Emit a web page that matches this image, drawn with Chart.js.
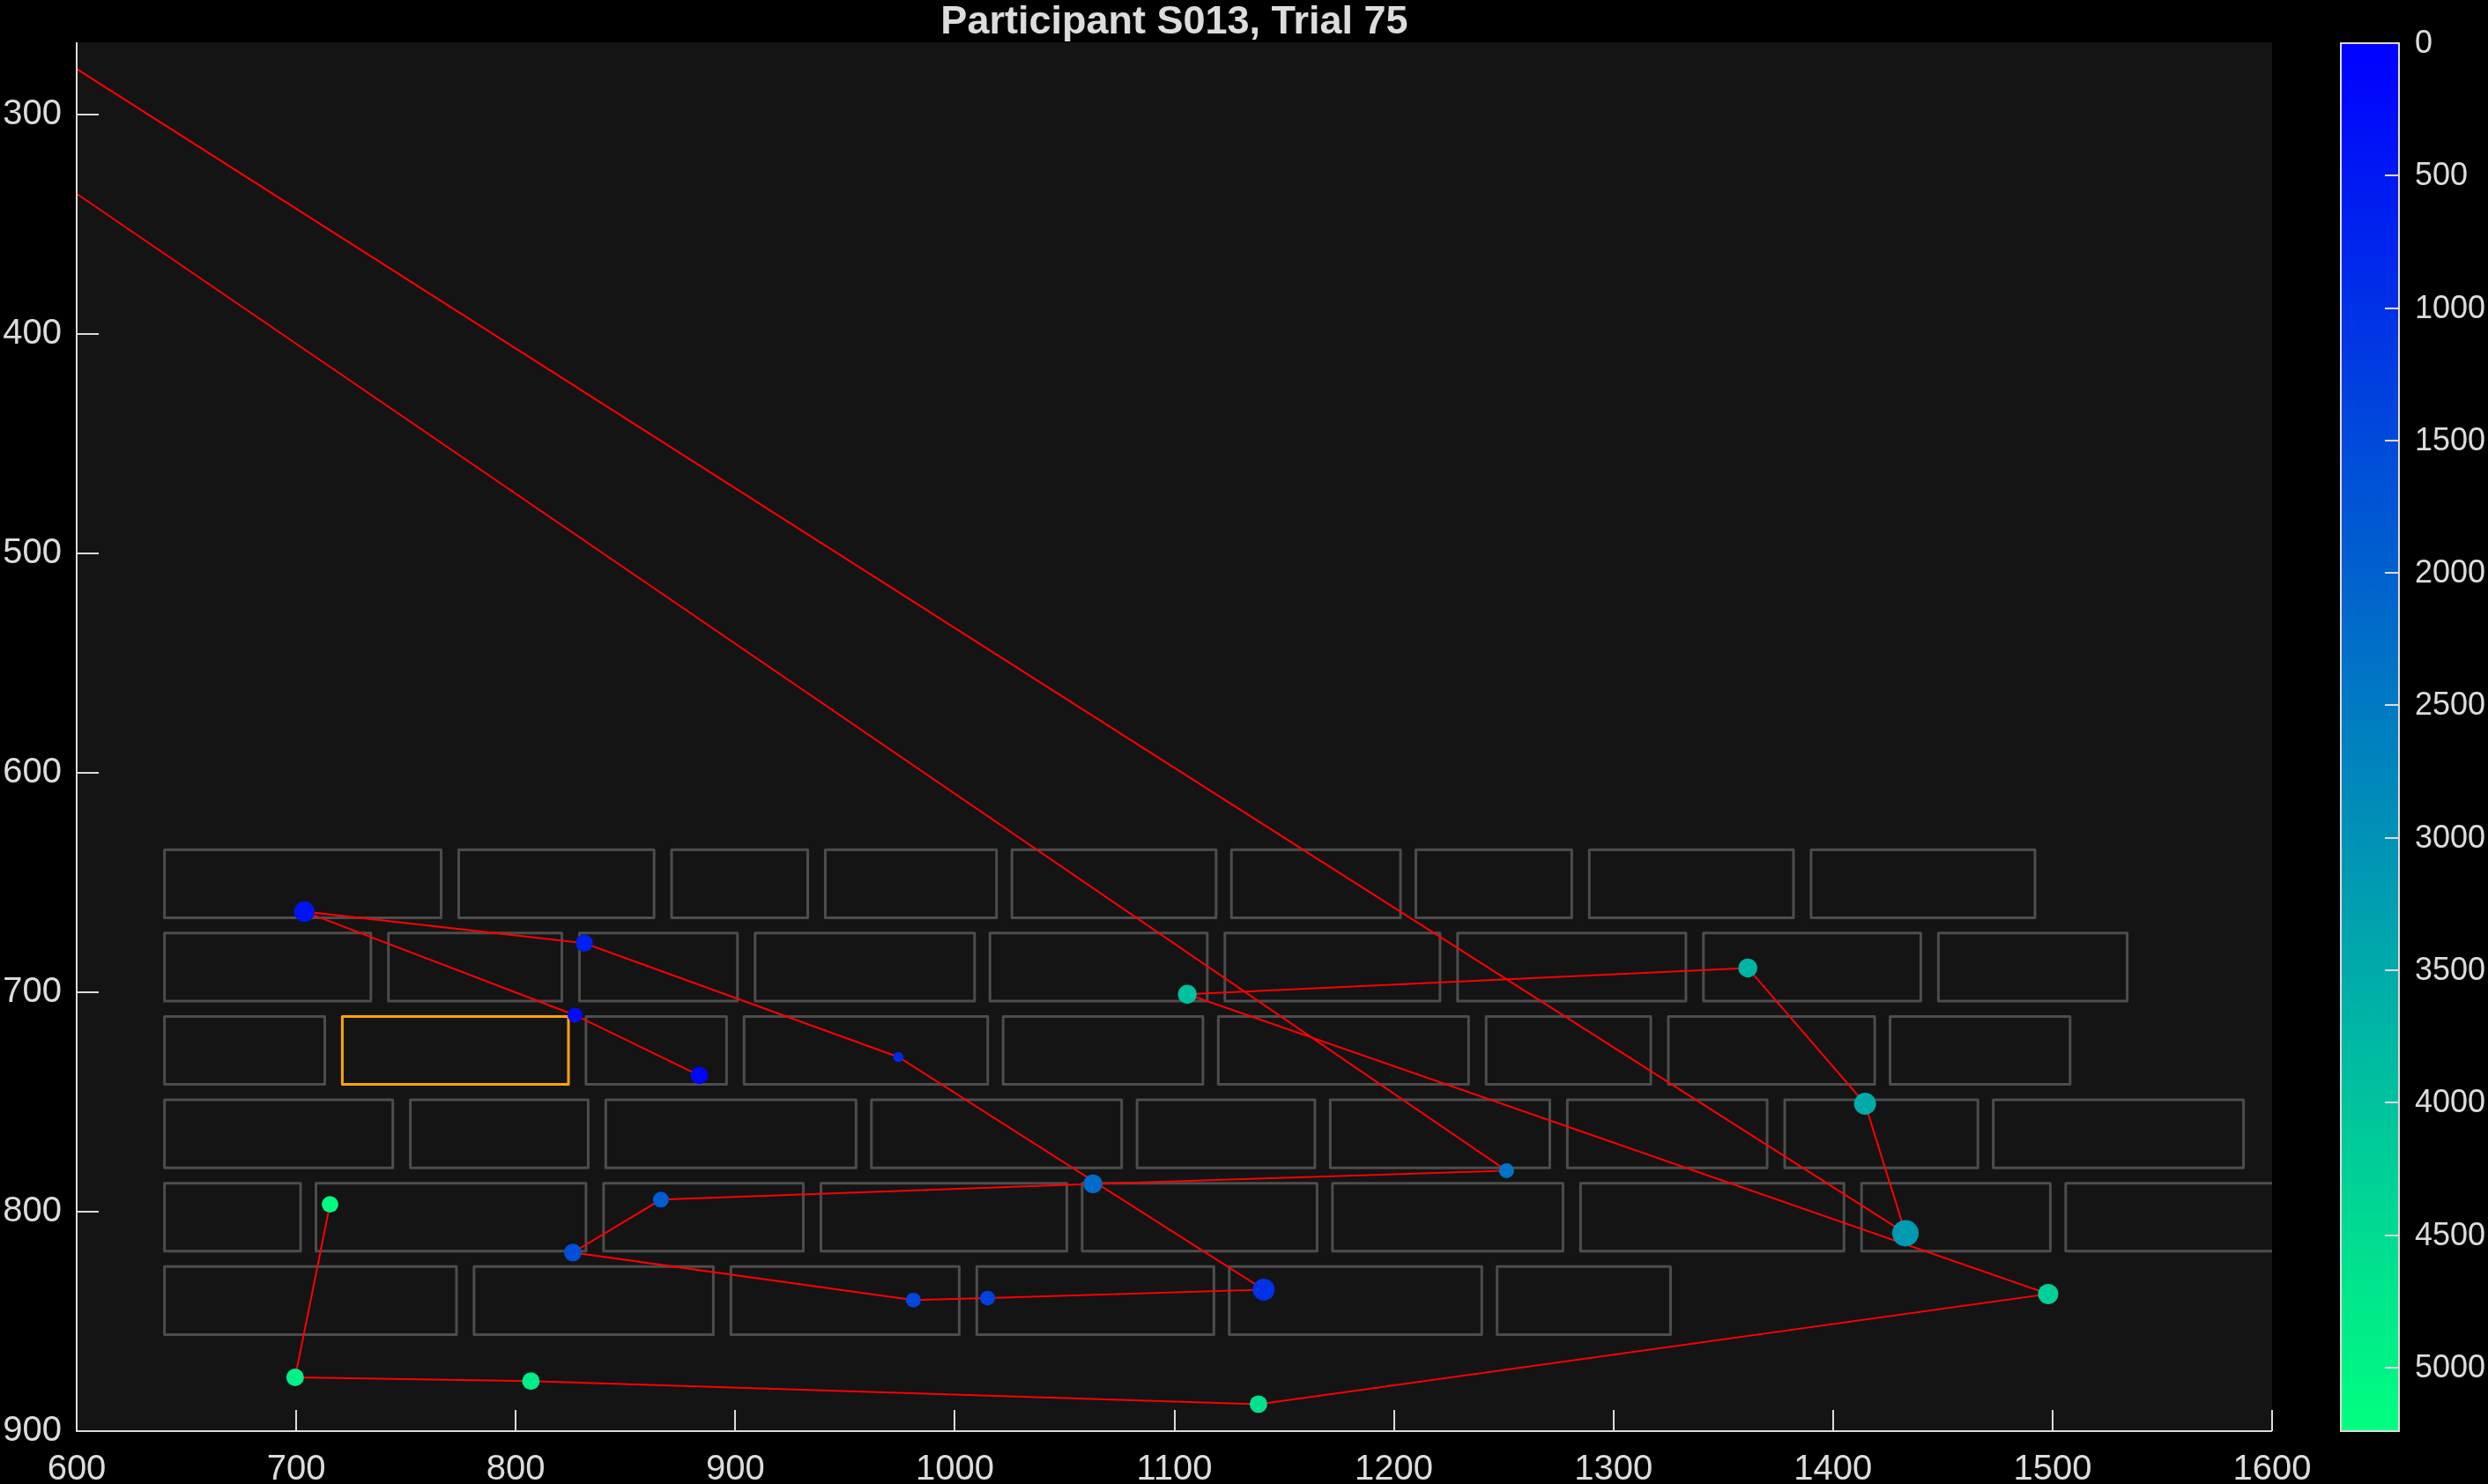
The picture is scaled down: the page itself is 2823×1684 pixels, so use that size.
<!DOCTYPE html>
<html>
<head>
<meta charset="utf-8">
<script src="https://cdn.jsdelivr.net/npm/chart.js@4.4.1/dist/chart.umd.min.js"></script>
<style>
html,body{margin:0;padding:0;background:#000;}
#wrap{width:2823px;height:1684px;position:relative;}
</style>
</head>
<body>
<div id="wrap"><canvas id="c" width="2823" height="1684"></canvas></div>
<script>
// ---------- DATA ----------
const titleText = 'Participant S013, Trial 75';
const xTicks = [600,700,800,900,1000,1100,1200,1300,1400,1500,1600];
const yTicks = [300,400,500,600,700,800,900];
const cbarTicks = [0,500,1000,1500,2000,2500,3000,3500,4000,4500,5000];
const cbarMax = 5240;

// word boxes: row top / bottom (screen y) and [left,right] spans per row
const rowTops = [635,673,711,749,787,825];
const rowBottoms = [666,704,742,780,818,856];
const rowSpans = [
  [[640,766],[774,863],[871,933],[941,1019],[1026,1119],[1126,1203],[1210,1281],[1289,1382],[1390,1492]],
  [[640,734],[742,821],[829,901],[909,1009],[1016,1115],[1123,1221],[1229,1333],[1341,1440],[1448,1534]],
  [[640,713],[721,824],[832,896],[904,1015],[1022,1113],[1120,1234],[1242,1317],[1325,1419],[1426,1508]],
  [[640,744],[752,833],[841,955],[962,1076],[1083,1164],[1171,1271],[1279,1370],[1378,1466],[1473,1587]],
  [[640,702],[709,832],[840,931],[939,1051],[1058,1165],[1172,1277],[1285,1405],[1413,1499],[1506,1625]],
  [[640,773],[781,890],[898,1002],[1010,1118],[1125,1240],[1247,1326]]
];
const targetRow = 2;
const targetIndex = 1;

// fixations in temporal order
const fixX    = [883.6, 827.0, 703.7, 831.2, 974.3, 1140.7, 1014.9, 981.1, 826.0, 866.1, 1062.9, 1251.3, -620, 1433.0, 1414.6, 1361.2, 1105.9, 1498.0, 1138.3, 806.9, 699.5, 715.4];
const fixY    = [737.9, 710.4, 663.2, 677.6, 729.5, 835.5, 839.4, 840.3, 818.6, 794.5, 787.3, 781.3, -498, 809.8, 750.8, 688.9, 700.9, 837.5, 887.7, 877.2, 875.5, 796.6];
const fixTime = [100, 200, 400, 650, 850, 1000, 1350, 1450, 1650, 1900, 2200, 2400, 2750, 3150, 3500, 3700, 3950, 4280, 4620, 4830, 4950, 5150];
const fixDur  = [196, 147, 275, 196, 69, 319, 147, 147, 204, 165, 234, 147, 150, 459, 319, 234, 234, 270, 204, 204, 204, 180];

// ---------- STYLE / HELPERS ----------
const AXIS = '#dcdcdc';
const FONT = '"Liberation Sans", Arial, Helvetica, sans-serif';
function winter(t){
  t = Math.max(0, Math.min(1, t));
  return 'rgb(0,' + Math.round(255*t) + ',' + Math.round(255*(1-0.5*t)) + ')';
}
const L = 87, R = 2578, T = 48, B = 1624;

const datasets = [];
// markers (top)
datasets.push({
  type:'scatter', order:0,
  data: fixX.map((x,i)=>({x:x, y:fixY[i]})),
  pointRadius: fixDur.map(d=>0.7*Math.sqrt(d)),
  pointBackgroundColor: fixTime.map(t=>winter(t/cbarMax)),
  pointBorderWidth: 0,
  pointHoverRadius: fixDur.map(d=>0.7*Math.sqrt(d)),
  showLine:false
});
// scanpath
datasets.push({
  type:'line', order:1,
  data: fixX.map((x,i)=>({x:x, y:fixY[i]})),
  borderColor:'#ff0000', borderWidth:2, pointRadius:0, fill:false, tension:0
});
// word boxes
rowSpans.forEach((spans, r)=>{
  spans.forEach((s, k)=>{
    const isT = (r===targetRow && k===targetIndex);
    datasets.push({
      type:'line', order: isT ? 2 : 3,
      data:[{x:s[0],y:rowTops[r]},{x:s[1],y:rowTops[r]},{x:s[1],y:rowBottoms[r]},{x:s[0],y:rowBottoms[r]},{x:s[0],y:rowTops[r]}],
      borderColor: isT ? '#ffa500' : '#4d4d4d',
      borderWidth: 3, pointRadius:0, fill:false, tension:0,
      borderJoinStyle:'round', borderCapStyle:'round'
    });
  });
});

const bgPlugin = {
  id:'bg',
  beforeDraw(chart){
    const c = chart.ctx, a = chart.chartArea;
    c.save();
    c.fillStyle = '#000';
    c.fillRect(0,0,chart.width,chart.height);
    c.fillStyle = '#141414';
    c.fillRect(a.left, a.top, a.right-a.left, a.bottom-a.top);
    c.restore();
  }
};

const decoPlugin = {
  id:'deco',
  afterDraw(chart){
    const c = chart.ctx, a = chart.chartArea;
    const xs = chart.scales.x, ys = chart.scales.y;
    c.save();
    // title
    c.fillStyle = AXIS;
    c.font = 'bold 45px ' + FONT;
    c.textAlign = 'center';
    c.textBaseline = 'alphabetic';
    c.fillText(titleText, (a.left + a.right)/2, 38);
    // axis lines
    c.strokeStyle = AXIS;
    c.lineWidth = 2;
    c.beginPath();
    c.moveTo(a.left, a.top); c.lineTo(a.left, a.bottom + 1);
    c.moveTo(a.left - 1, a.bottom); c.lineTo(a.right, a.bottom);
    c.stroke();
    // inward ticks
    c.lineWidth = 2;
    c.beginPath();
    xTicks.forEach(v=>{
      const px = Math.round(xs.getPixelForValue(v));
      c.moveTo(px, a.bottom); c.lineTo(px, a.bottom - 24);
    });
    yTicks.forEach(v=>{
      const py = Math.round(ys.getPixelForValue(v));
      c.moveTo(a.left, py); c.lineTo(a.left + 25, py);
    });
    c.stroke();
    // colorbar
    const cx0 = 2656, cx1 = 2722, cy0 = a.top + 1, cy1 = a.bottom;
    const g = c.createLinearGradient(0, cy0, 0, cy1);
    for (let i=0;i<=20;i++){ g.addColorStop(i/20, winter(i/20)); }
    c.fillStyle = g;
    c.fillRect(cx0, cy0, cx1-cx0, cy1-cy0);
    c.strokeStyle = AXIS;
    c.lineWidth = 2;
    c.strokeRect(cx0, cy0, cx1-cx0, cy1-cy0);
    c.beginPath();
    c.font = '36px ' + FONT;
    c.textAlign = 'left';
    c.textBaseline = 'middle';
    c.fillStyle = AXIS;
    cbarTicks.forEach(v=>{
      const py = Math.round(cy0 + (v/cbarMax)*(cy1-cy0));
      if (v>0){ c.moveTo(cx1, py); c.lineTo(cx1-16, py); }
      c.fillText(String(v), 2740, py + 1);
    });
    c.stroke();
    c.restore();
  }
};

new Chart(document.getElementById('c'), {
  data:{ datasets },
  options:{
    responsive:false, animation:false, devicePixelRatio:1,
    layout:{ padding:{ left:0, top:T, right:2823-R, bottom:0 } },
    plugins:{ legend:{display:false}, tooltip:{enabled:false}, title:{display:false} },
    scales:{
      x:{
        type:'linear', position:'bottom', min:600, max:1600,
        afterFit(s){ s.height = 1684 - B; },
        afterBuildTicks(s){ s.ticks = xTicks.map(v=>({value:v})); },
        grid:{ display:false, drawTicks:false },
        border:{ display:false },
        ticks:{ color:AXIS, font:{ family:FONT, size:40 }, padding:20, maxRotation:0, autoSkip:false, callback:v=>String(v) }
      },
      y:{
        type:'linear', position:'left', min:267, max:900, reverse:true,
        afterFit(s){ s.width = L; },
        afterBuildTicks(s){ s.ticks = yTicks.map(v=>({value:v})); },
        grid:{ display:false, drawTicks:false },
        border:{ display:false },
        ticks:{ color:AXIS, font:{ family:FONT, size:40 }, padding:17, autoSkip:false, callback:v=>String(v) }
      }
    }
  },
  plugins:[bgPlugin, decoPlugin]
});
</script>
</body>
</html>
